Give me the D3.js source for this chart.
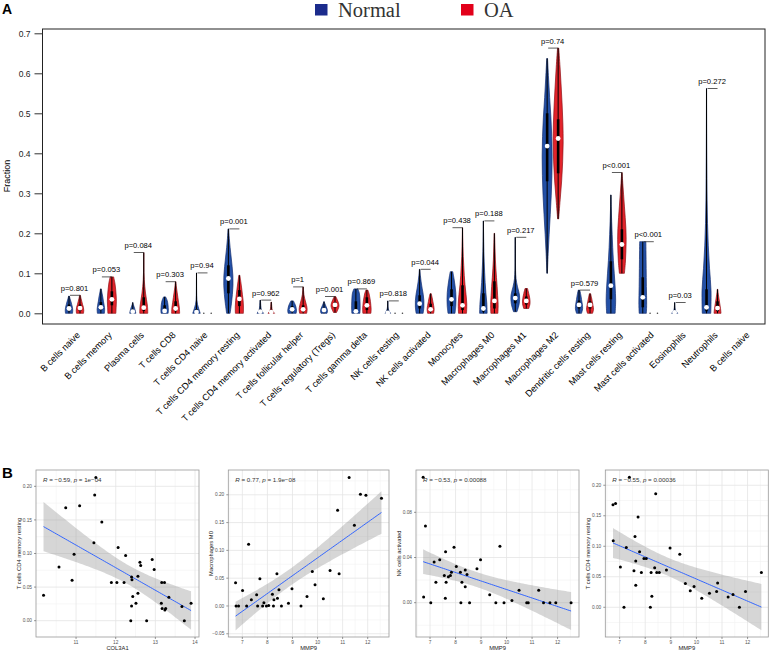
<!DOCTYPE html>
<html><head><meta charset="utf-8">
<script src="https://cdn.jsdelivr.net/npm/d3@7"></script>
<style>body{margin:0;background:#fff}svg{display:block}text{-webkit-font-smoothing:antialiased}</style>
</head><body><svg id="c" width="770" height="652"></svg>
<script>
// ---------------- DATA: panel A ----------------
const categories = ["B cells naive","B cells memory","Plasma cells","T cells CD8","T cells CD4 naive","T cells CD4 memory resting","T cells CD4 memory activated","T cells follicular helper","T cells regulatory (Tregs)","T cells gamma delta","NK cells resting","NK cells activated","Monocytes","Macrophages M0","Macrophages M1","Macrophages M2","Dendritic cells resting","Mast cells resting","Mast cells activated","Eosinophils","Neutrophils","B cells naive"];
const pLabels = ["p=0.801","p=0.053","p=0.084","p=0.303","p=0.94","p=0.001","p=0.962","p=1","p=0.001","p=0.869","p=0.818","p=0.044","p=0.438","p=0.188","p=0.217","p=0.74","p=0.579","p<0.001","p<0.001","p=0.03","p=0.272",""];
const yTicksA = [0,0.1,0.2,0.3,0.4,0.5,0.6,0.7];
const groups = ["Normal","OA"];

const normalMin    = [0,0,0,0,0,0,0,0,0,0,0,0,0,0,0.004,0.100,0,0,0,0,0,null];
const normalMax    = [0.043,0.061,0.027,0.041,0.101,0.211,0.033,0.031,0.029,0.061,0.031,0.110,0.104,0.231,0.190,0.637,0.058,0.296,0.179,0.027,0.562,null];
const normalMedian = [0.012,0.015,0.004,0.006,0.003,0.087,0.004,0.010,0.008,0.005,0.001,0.024,0.035,0.012,0.038,0.418,0.021,0.069,0.040,0.002,0.015,null];
const normalQ1     = [0.005,0.008,0.001,0.002,0,0.050,0.001,0.004,0.003,0.001,0,0.012,0.018,0.004,0.025,0.330,0.012,0.035,0.015,0,0.005,null];
const normalQ3     = [0.022,0.028,0.010,0.020,0.010,0.120,0.010,0.018,0.014,0.030,0.005,0.045,0.060,0.050,0.050,0.500,0.032,0.130,0.090,0.006,0.060,null];

const oaMin    = [0,0,0,0,0,0,0,0,0.002,0,0,0,0,0,0.012,0.236,0,0.100,0,null,0,null];
const oaMax    = [0.045,0.091,0.152,0.079,0,0.095,0.028,0.066,0.042,0.058,0,0.049,0.214,0.200,0.062,0.663,0.049,0.352,0,null,0.060,null];
const oaMedian = [0.013,0.035,0.014,0.012,0,0.036,0.003,0.010,0.021,0.020,0,0.010,0.020,0.031,0.031,0.437,0.021,0.172,0,null,0.013,null];
const oaQ1     = [0.006,0.020,0.006,0.005,0,0.018,0.001,0.004,0.014,0.008,0,0.004,0.008,0.012,0.022,0.350,0.012,0.135,0,null,0.005,null];
const oaQ3     = [0.022,0.055,0.040,0.030,0,0.058,0.008,0.020,0.028,0.040,0,0.024,0.070,0.080,0.042,0.485,0.030,0.210,0,null,0.030,null];

// relative density profiles, bottom (min) to top (max)
const normalShape = [
 [0.7,0.75,0.7,0.55,0.4,0.22,0.08],
 [0.7,0.75,0.65,0.5,0.38,0.22,0.08],
 [0.6,0.55,0.45,0.35,0.22,0.1,0.03],
 [0.7,0.75,0.72,0.68,0.6,0.45,0.2],
 [0.75,0.45,0.2,0.08,0.04,0.03,0.02,0.02,0.01,0.01],
 [0.35,0.6,0.8,0.92,0.9,0.75,0.55,0.35,0.18,0.06],
 [0.65,0.3,0.15,0.1,0.07,0.04],
 [0.8,0.88,0.82,0.7,0.5,0.25],
 [0.6,0.7,0.6,0.4,0.2,0.05],
 [0.8,0.85,0.85,0.82,0.78,0.68,0.4],
 [0.55,0.2,0.06,0.03,0.02],
 [0.7,0.85,0.85,0.72,0.5,0.3,0.15,0.05],
 [0.7,0.85,0.9,0.85,0.7,0.5,0.25],
 [0.75,0.68,0.5,0.35,0.25,0.16,0.1,0.06,0.03,0.01],
 [0.35,0.8,0.85,0.45,0.15,0.06,0.04,0.03,0.02,0.01],
 [0.05,0.2,0.4,0.62,0.82,0.95,1,0.92,0.75,0.5,0.28,0.08],
 [0.5,0.72,0.65,0.5,0.35,0.15],
 [0.85,0.95,0.85,0.68,0.5,0.36,0.25,0.15,0.07,0.02],
 [0.72,0.78,0.76,0.72,0.7,0.68,0.66,0.64,0.62],
 [0.6,0.2,0.07,0.03,0.02],
 [0.85,0.9,0.6,0.35,0.2,0.12,0.08,0.05,0.03,0.02,0.01],
 null
];
const oaShape = [
 [0.7,0.75,0.68,0.5,0.35,0.2,0.08],
 [0.8,0.85,0.9,0.85,0.75,0.6,0.35],
 [0.8,0.75,0.55,0.35,0.2,0.1,0.05,0.03,0.02,0.01],
 [0.8,0.75,0.6,0.45,0.3,0.15,0.05],
 [],
 [0.8,0.82,0.75,0.6,0.45,0.28,0.1],
 [0.65,0.3,0.15,0.1,0.07,0.04],
 [0.7,0.8,0.7,0.5,0.3,0.15,0.08,0.04],
 [0.3,0.6,0.8,0.7,0.45,0.15],
 [0.8,0.85,0.8,0.72,0.6,0.45,0.2],
 [],
 [0.6,0.7,0.6,0.45,0.3,0.12],
 [0.8,0.85,0.7,0.5,0.35,0.25,0.15,0.1,0.05,0.02],
 [0.7,0.75,0.65,0.55,0.42,0.3,0.2,0.14,0.09,0.04],
 [0.5,0.75,0.7,0.5,0.25],
 [0.1,0.4,0.7,0.9,1,0.95,0.8,0.6,0.38,0.12],
 [0.5,0.7,0.6,0.45,0.3,0.12],
 [0.5,0.7,0.8,0.85,0.8,0.66,0.5,0.34,0.18,0.04],
 [],
 null,
 [0.7,0.6,0.45,0.3,0.15,0.05],
 null
];

// ---------------- DATA: panel B ----------------
const s1X = [11.50,11.47,10.74,11.09,11.65,11.45,10.95,12.06,12.25,10.57,10.90,10.18,11.89,12.03,12.21,12.41,12.40,12.56,12.61,12.63,12.92,12.97,12.56,12.43,12.51,12.40,12.38,12.78,13.16,13.23,13.15,13.17,13.24,13.26,13.34,13.67,13.73,13.90];
const s1Y = [0.213,0.187,0.168,0.171,0.147,0.116,0.099,0.109,0.097,0.080,0.060,0.038,0.057,0.057,0.057,0.061,0.065,0.066,0.087,0.082,0.091,0.076,0.041,0.036,0.026,0.022,0.000,0.000,0.057,0.057,0.026,0.018,0.016,0.018,0.035,0.021,0.000,0.026];
const s2X = [11.26,11.71,11.93,12.55,10.80,11.47,7.25,6.73,7.01,8.38,7.70,9.79,10.50,10.86,9.90,8.46,8.98,7.36,7.57,8.20,7.86,8.26,8.40,8.84,9.58,10.23,6.75,6.85,7.17,7.61,7.81,7.96,8.05,8.24,8.56,9.34];
const s2Y = [0.231,0.201,0.199,0.194,0.172,0.145,0.111,0.042,0.028,0.058,0.049,0.062,0.064,0.058,0.038,0.029,0.031,0.011,0.020,0.021,0.006,0.011,0.014,0.005,0.017,0.013,0,0,0,0,0,0,0.001,0,0,0];
const s3X = [6.73,6.82,7.94,9.74,7.61,8.98,7.38,7.16,8.03,8.19,7.84,8.38,8.45,7.56,7.72,7.80,8.84,7.23,7.63,8.25,8.38,9.34,10.49,11.26,6.75,7.60,7.03,8.21,8.55,9.58,9.90,10.21,10.79,10.85,11.45,11.70,11.93,12.53];
const s3Y = [0.111,0.068,0.049,0.050,0.045,0.038,0.038,0.036,0.032,0.027,0.027,0.029,0.025,0.024,0.023,0.024,0.030,0.018,0.018,0.018,0.014,0.007,0.011,0.011,0.005,0.004,0,0,0,0,0,0.002,0,0,0,0,0,0];
const s4X = [7.38,8.41,6.74,6.84,7.72,7.60,6.75,7.26,8.97,9.35,7.78,7.95,7.63,8.04,7.03,7.56,7.85,8.23,8.45,8.55,8.37,8.83,7.63,9.57,9.91,9.76,10.83,10.79,10.51,10.21,11.24,11.43,11.92,7.17,8.20,8.26,11.68,12.54];
const s4Y = [0.213,0.186,0.168,0.170,0.148,0.116,0.109,0.098,0.097,0.087,0.091,0.080,0.076,0.080,0.066,0.060,0.057,0.057,0.057,0.057,0.065,0.061,0.036,0.039,0.034,0.027,0.040,0.026,0.023,0.015,0.017,0.021,0.026,0,0,0.018,0,0.057];
const xTitles = ["COL3A1","MMP9","MMP9","MMP9"];
const yTitles = ["T cells CD4 memory resting","Macrophages M0","NK cells activated","T cells CD4 memory resting"];
const noteR = ["\u22120.59","0.77","\u22120.53","\u22120.55"];
const noteP = ["1e\u221204","1.9e\u221208","0.00088","0.00036"];
const xLimits = [[9.99,14.10],[6.44,12.85],[6.45,12.84],[6.44,12.81]];
const yLimits = [[-0.0243,0.2243],[-0.0558,0.2446],[-0.0304,0.1175],[-0.0487,0.225]];
const xTicksB = [[11,12,13,14],[7,8,9,10,11,12],[7,8,9,10,11,12],[7,8,9,10,11,12]];
const yTicksB = [[0,0.05,0.10,0.15,0.20],[-0.05,0,0.05,0.10,0.15,0.20],[0,0.04,0.08],[0,0.05,0.10,0.15,0.20]];

// ---------------- DRAW ----------------
const svg = d3.select("#c");
const SANS = "'Liberation Sans', Arial, sans-serif";
const BLUE = "#2350a6", BLUE_D = "#142e70", RED = "#e3232a", RED_D = "#8e1117";

svg.append("text").attr("x",2).attr("y",14).attr("font-family",SANS).attr("font-weight","bold").attr("font-size",14).attr("fill","#000").text("A");
svg.append("text").attr("x",2).attr("y",478).attr("font-family",SANS).attr("font-weight","bold").attr("font-size",15).attr("fill","#000").text("B");

// Legend
const legX = [315, 461];
const legCol = ["#1b2b8c","#e2001a"];
groups.forEach((g,i)=>{
  svg.append("rect").attr("x",legX[i]).attr("y",4).attr("width",12.5).attr("height",11.5).attr("fill",legCol[i]);
  svg.append("text").attr("x",legX[i]+23).attr("y",16.5).attr("font-family","'Liberation Serif','Times New Roman',serif")
    .attr("font-size",20.5).attr("fill","#333").text(g);
});

const A = {left:42.5, right:765, top:29, bottom:324};
const y = d3.scaleLinear().domain([0,0.7]).range([313.3,33.3]);
const x = d3.scalePoint().domain(d3.range(categories.length)).range([74.5,743.9]);
const off = 5.5, W = 5;

svg.append("rect").attr("x",A.left).attr("y",A.top).attr("width",A.right-A.left).attr("height",A.bottom-A.top)
  .attr("fill","none").attr("stroke","#222").attr("stroke-width",1);

const yAx = svg.append("g").attr("transform",`translate(${A.left},0)`)
  .call(d3.axisLeft(y).tickValues(yTicksA).tickFormat(d3.format(".1f")).tickSize(8).tickPadding(4));
yAx.select(".domain").remove();
yAx.selectAll("line").attr("stroke","#333");
yAx.selectAll("text").attr("font-family",SANS).attr("font-size",8.5).attr("fill","#222");
svg.append("text").attr("transform","translate(10,176) rotate(-90)").attr("text-anchor","middle")
  .attr("font-family",SANS).attr("font-size",9).attr("fill","#000").text("Fraction");

// X labels
svg.append("g").selectAll("text").data(categories).join("text")
  .attr("transform",(d,i)=>`translate(${x(i)+1.5},331) rotate(-45)`)
  .attr("text-anchor","end").attr("dy","0.72em")
  .attr("font-family",SANS).attr("font-size",9.2).attr("fill","#000").text(d=>d);

const area = d3.area().y(d=>y(d.v)).x0(d=>d.c-d.w).x1(d=>d.c+d.w).curve(d3.curveCatmullRom);
const gV = svg.append("g");
function violin(cx, mn, mx, med, q1, q3, shape, fill, stroke){
  if (mx==null || shape==null) return;
  if (mx===mn){
    [-3.7,3.7].forEach(dx=>gV.append("circle").attr("cx",cx+dx).attr("cy",y(mn)).attr("r",0.8).attr("fill","#444"));
    return;
  }
  const n = shape.length;
  const pts = shape.map((s,k)=>({v: mn+(mx-mn)*k/(n-1), w: s*W, c: cx}));
  gV.append("path").attr("d",area(pts)).attr("fill",fill).attr("stroke",stroke).attr("stroke-width",0.7);
  gV.append("line").attr("x1",cx).attr("x2",cx).attr("y1",y(mn)).attr("y2",y(mx)).attr("stroke","#000").attr("stroke-width",1);
  gV.append("line").attr("x1",cx).attr("x2",cx).attr("y1",y(q1)).attr("y2",y(q3)).attr("stroke","#000").attr("stroke-width",2.6);
  gV.append("circle").attr("cx",cx).attr("cy",y(med)).attr("r",2.4).attr("fill","#fff");
}
categories.forEach((c,i)=>{
  violin(x(i)-off, normalMin[i], normalMax[i], normalMedian[i], normalQ1[i], normalQ3[i], normalShape[i], BLUE, BLUE_D);
  violin(x(i)+off, oaMin[i], oaMax[i], oaMedian[i], oaQ1[i], oaQ3[i], oaShape[i], RED, RED_D);
  if (pLabels[i]){
    const top = y(Math.max(normalMax[i]||0, oaMax[i]||0));
    svg.append("line").attr("x1",x(i)-off+1).attr("x2",x(i)+off).attr("y1",top).attr("y2",top).attr("stroke","#333").attr("stroke-width",0.8);
    svg.append("text").attr("x",x(i)).attr("y",top-4.5).attr("text-anchor","middle")
      .attr("font-family",SANS).attr("font-size",7.6).attr("fill","#000").text(pLabels[i]);
  }
});

// ---------------- Panel B scatter ----------------
const frames = [[36,199],[228.3,389],[416,579],[605.3,768.3]];
const Btop = 470, Bbot = 637;
const series = [[s1X,s1Y],[s2X,s2Y],[s3X,s3Y],[s4X,s4Y]];
const defs = svg.append("defs");

series.forEach(([xs,ys],k)=>{
  const [L,R] = frames[k];
  const sx = d3.scaleLinear().domain(xLimits[k]).range([L,R]);
  const sy = d3.scaleLinear().domain(yLimits[k]).range([Bbot,Btop]);
  const g = svg.append("g");
  const clipId = "clip"+k;
  defs.append("clipPath").attr("id",clipId).append("rect").attr("x",L).attr("y",Btop).attr("width",R-L).attr("height",Bbot-Btop);
  g.append("rect").attr("x",L).attr("y",Btop).attr("width",R-L).attr("height",Bbot-Btop).attr("fill","#fff");
  const minors = (ticks, dom)=>{
    const st = ticks[1]-ticks[0], out=[];
    for (let v=ticks[0]-st/2; v<=dom[1]; v+=st) if (v>=dom[0]) out.push(v);
    return out;
  };
  const gg = g.append("g").attr("clip-path",`url(#${clipId})`);
  minors(xTicksB[k],xLimits[k]).forEach(v=>gg.append("line").attr("x1",sx(v)).attr("x2",sx(v)).attr("y1",Btop).attr("y2",Bbot).attr("stroke","#f2f2f2").attr("stroke-width",0.6));
  minors(yTicksB[k],yLimits[k]).forEach(v=>gg.append("line").attr("y1",sy(v)).attr("y2",sy(v)).attr("x1",L).attr("x2",R).attr("stroke","#f2f2f2").attr("stroke-width",0.6));
  xTicksB[k].forEach(v=>gg.append("line").attr("x1",sx(v)).attr("x2",sx(v)).attr("y1",Btop).attr("y2",Bbot).attr("stroke","#e4e4e4").attr("stroke-width",0.8));
  yTicksB[k].forEach(v=>gg.append("line").attr("y1",sy(v)).attr("y2",sy(v)).attr("x1",L).attr("x2",R).attr("stroke","#e4e4e4").attr("stroke-width",0.8));

  // regression with 95% CI
  const n = xs.length, mx = d3.mean(xs), my = d3.mean(ys);
  let sxx=0, sxy=0; xs.forEach((v,i)=>{sxx+=(v-mx)**2; sxy+=(v-mx)*(ys[i]-my);});
  const b = sxy/sxx, a = my-b*mx;
  let sse=0; xs.forEach((v,i)=>{sse+=(ys[i]-a-b*v)**2;});
  const s = Math.sqrt(sse/(n-2)), t = 2.03;
  const [x0,x1] = d3.extent(xs);
  const grid = d3.range(0,81).map(j=>x0+(x1-x0)*j/80).map(v=>{
    const f=a+b*v, se=s*Math.sqrt(1/n+(v-mx)**2/sxx);
    return {x:v, f, lo:f-t*se, hi:f+t*se};
  });
  gg.append("path").attr("d",d3.area().x(d=>sx(d.x)).y0(d=>sy(d.lo)).y1(d=>sy(d.hi))(grid)).attr("fill","#999").attr("fill-opacity",0.4);
  gg.append("path").attr("d",d3.line().x(d=>sx(d.x)).y(d=>sy(d.f))(grid)).attr("fill","none").attr("stroke","#3366ff").attr("stroke-width",1);
  gg.selectAll("circle.p").data(xs).join("circle").attr("cx",d=>sx(d)).attr("cy",(d,i)=>sy(ys[i])).attr("r",1.5).attr("fill","#000");

  g.append("rect").attr("x",L).attr("y",Btop).attr("width",R-L).attr("height",Bbot-Btop).attr("fill","none").attr("stroke","#999").attr("stroke-width",0.8);

  xTicksB[k].forEach(v=>{
    g.append("line").attr("x1",sx(v)).attr("x2",sx(v)).attr("y1",Bbot).attr("y2",Bbot+2).attr("stroke","#555").attr("stroke-width",0.6);
    g.append("text").attr("x",sx(v)).attr("y",Bbot+6.5).attr("text-anchor","middle").attr("font-family",SANS).attr("font-size",4.8).attr("fill","#555").text(v);
  });
  const fmt = d3.format(".2f");
  yTicksB[k].forEach(v=>{
    g.append("line").attr("x1",L-2).attr("x2",L).attr("y1",sy(v)).attr("y2",sy(v)).attr("stroke","#555").attr("stroke-width",0.6);
    g.append("text").attr("x",L-4).attr("y",sy(v)+1.6).attr("text-anchor","end").attr("font-family",SANS).attr("font-size",4.8).attr("fill","#555").text(fmt(v).replace("-","\u2212"));
  });
  g.append("text").attr("x",(L+R)/2).attr("y",Bbot+13).attr("text-anchor","middle").attr("font-family",SANS).attr("font-size",5.8).attr("fill","#222").text(xTitles[k]);
  g.append("text").attr("transform",`translate(${L-15},${(Btop+Bbot)/2}) rotate(-90)`).attr("text-anchor","middle").attr("font-family",SANS).attr("font-size",5.8).attr("fill","#222").text(yTitles[k]);
  const note = g.append("text").attr("x",L+7).attr("y",Btop+12).attr("font-family",SANS).attr("font-size",6.2).attr("fill","#333");
  note.append("tspan").attr("font-style","italic").text("R");
  note.append("tspan").text(` = ${noteR[k]}, `);
  note.append("tspan").attr("font-style","italic").text("p");
  note.append("tspan").text(` = ${noteP[k]}`);
});
</script></body></html>
